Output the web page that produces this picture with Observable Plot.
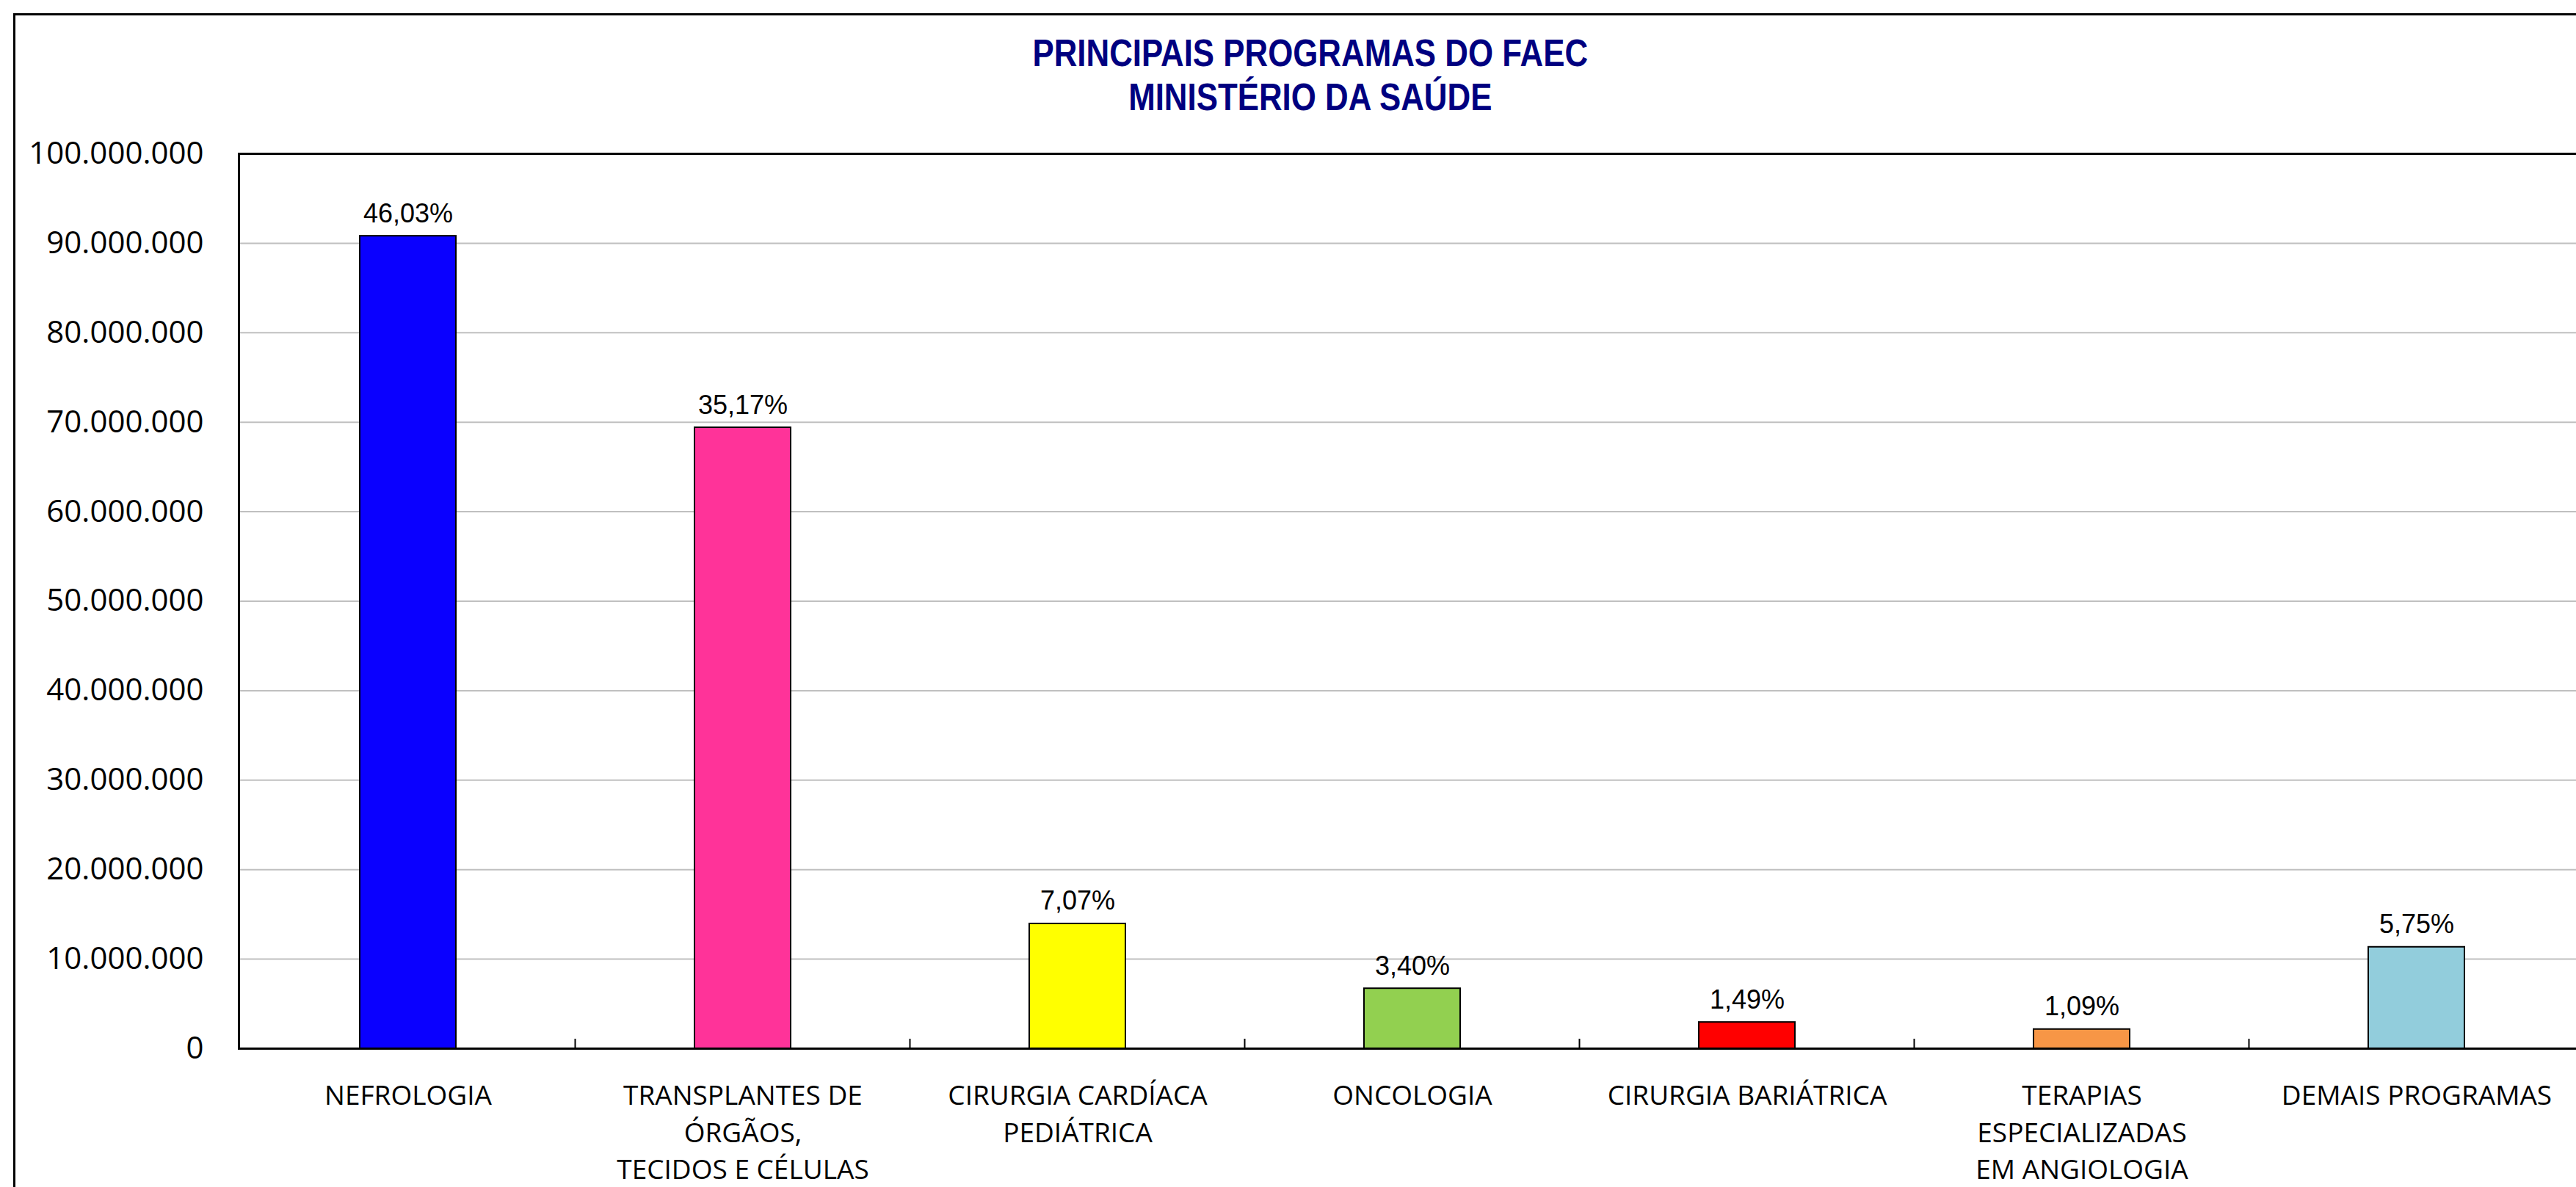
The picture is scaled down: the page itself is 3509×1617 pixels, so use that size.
<!DOCTYPE html>
<html>
<head>
<meta charset="utf-8">
<script src="https://cdn.jsdelivr.net/npm/d3@7"></script>
<script src="https://cdn.jsdelivr.net/npm/@observablehq/plot@0.6"></script>
<style>
  html, body { margin: 0; padding: 0; background: #fff; overflow: hidden; width: 3509px; height: 1617px; }
  #wrap { position: relative; width: 3509px; height: 1617px; overflow: hidden; }
  #border { position: absolute; left: 18px; top: 18px; width: 4000px; height: 4000px; border: 3px solid #000; box-sizing: border-box; pointer-events: none; }
  #title { position: relative; height: 170px; width: 3570px; text-align: center; color: #000080;
           font-family: "Liberation Sans", Arial, sans-serif; font-weight: bold;
           font-size: 52px; line-height: 60px; padding-top: 42px; box-sizing: border-box; }
  #title span { display: inline-block; transform: scaleX(0.843); transform-origin: center; }
  #chart svg { display: block; max-width: none !important; }
</style>
</head>
<body>
<div id="wrap">
  <div id="border"></div>
  <div id="title"><span>PRINCIPAIS PROGRAMAS DO FAEC<br>MINISTÉRIO DA SAÚDE</span></div>
  <div id="chart"></div>
</div>
<script>
// ---- data ----
const categories = [
  "NEFROLOGIA",
  "TRANSPLANTES DE\nÓRGÃOS,\nTECIDOS E CÉLULAS",
  "CIRURGIA CARDÍACA\nPEDIÁTRICA",
  "ONCOLOGIA",
  "CIRURGIA BARIÁTRICA",
  "TERAPIAS\nESPECIALIZADAS\nEM ANGIOLOGIA",
  "DEMAIS PROGRAMAS"
];
const values = [90800000, 69400000, 13950000, 6710000, 2940000, 2150000, 11340000];
const percentLabels = ["46,03%", "35,17%", "7,07%", "3,40%", "1,49%", "1,09%", "5,75%"];
const barColors = ["#0a00ff", "#ff3399", "#ffff00", "#92d050", "#ff0000", "#f79646", "#92cddc"];
const yTicks = [0, 10000000, 20000000, 30000000, 40000000, 50000000, 60000000, 70000000, 80000000, 90000000, 100000000];

const rows = categories.map((c, i) => ({category: c, value: values[i], label: percentLabels[i], color: barColors[i]}));

const ptBR = d3.formatLocale({decimal: ",", thousands: ".", grouping: [3], currency: ["R$", ""]});
const fmt = ptBR.format(",d");

function separators(index, scales, values, dimensions) {
  const {x, y} = scales;
  const n = categories.length;
  const step = typeof x.step === "function" ? x.step()
    : (dimensions.width - dimensions.marginLeft - dimensions.marginRight) / n;
  const bw = typeof x.bandwidth === "function" ? x.bandwidth() : step * (1 - 0.713);
  const y0 = y(0);
  const g = d3.create("svg:g").attr("stroke", "#000").attr("stroke-width", 2);
  for (const c of categories.slice(1)) {
    const xb = x(c) + bw / 2 - step / 2;
    g.append("line").attr("x1", xb).attr("x2", xb).attr("y1", y0).attr("y2", y0 - 13);
  }
  return g.node();
}

const chart = Plot.plot({
  width: 3521,
  height: 1447,
  marginTop: 39,
  marginBottom: 189,
  marginLeft: 325,
  marginRight: 0,
  style: {fontFamily: "'Open Sans', sans-serif", color: "#000", background: "transparent", maxWidth: "none"},
  x: {domain: categories, paddingInner: 0.713, paddingOuter: 0.3565, label: null},
  y: {domain: [0, 100000000], label: null},
  marks: [
    Plot.gridY(yTicks, {stroke: "#c0c0c0", strokeOpacity: 1, strokeWidth: 2}),
    Plot.barY(rows, {x: "category", y: "value", fill: "color", stroke: "#000", strokeWidth: 2}),
    Plot.frame({stroke: "#000", strokeWidth: 3}),
    Plot.ruleY([0], {stroke: "#000", strokeWidth: 3}),
    separators,
    Plot.text(rows, {x: "category", y: "value", text: "label", dy: -19, lineAnchor: "bottom",
      fontSize: 36, fontFamily: "'Liberation Sans', Arial, sans-serif", fill: "#000"}),
    Plot.axisY(yTicks, {tickSize: 0, tickPadding: 48, tickFormat: fmt, fontSize: 42, label: null}),
    Plot.axisX({tickSize: 0, tickPadding: 41, fontSize: 37, lineHeight: 1.36, label: null})
  ]
});
document.getElementById("chart").appendChild(chart);
</script>
</body>
</html>
